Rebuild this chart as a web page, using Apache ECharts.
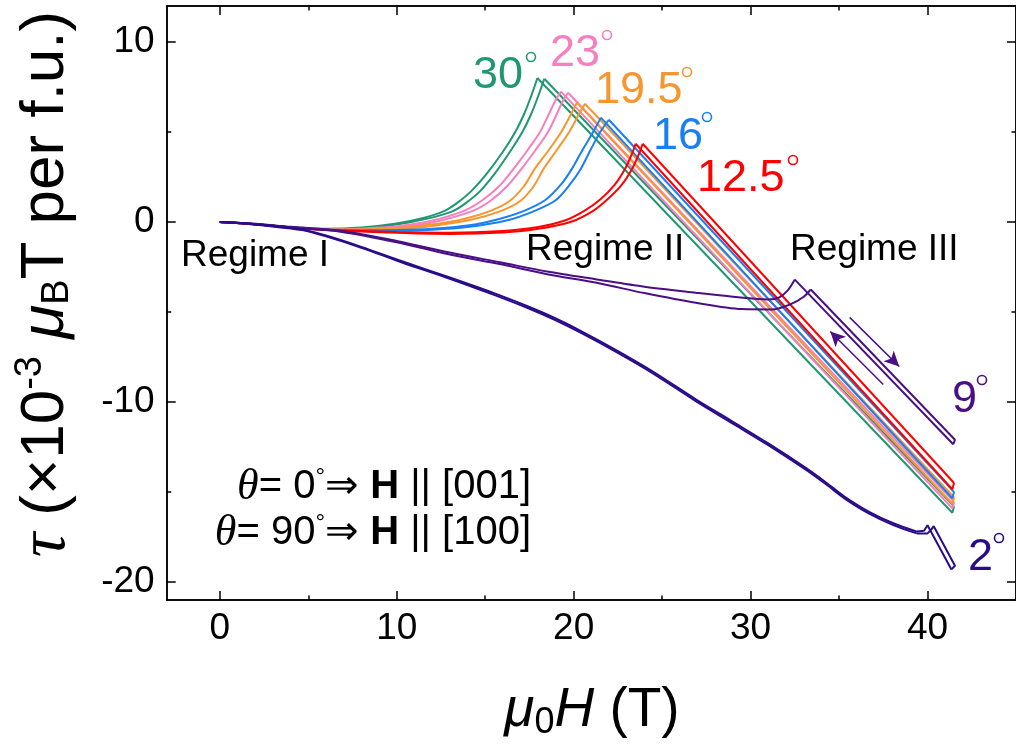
<!DOCTYPE html>
<html>
<head>
<meta charset="utf-8">
<script src="https://cdn.jsdelivr.net/npm/echarts@6/dist/echarts.min.js"></script>
<style>
html,body{margin:0;padding:0;background:#fff;}
#c{width:1016px;height:748px;}
</style>
</head>
<body>
<div id="c"></div>
<script>
// ---------------- data (field in T, torque in 1e-3 muB T per f.u.) ----------------
const xMajorTicks = [0, 10, 20, 30, 40];
const xMinorTicks = [5, 15, 25, 35, 45];
const yMajorTicks = [-20, -10, 0, 10];
const yMinorTicks = [-15, -5, 5];

// each sweep: a smooth low-field curve up to the kink, then the straight high-field branch
const deg30_a_curve = [[0,0],[2,-0.12],[4,-0.3],[6,-0.38],[8,-0.3],[10,-0.08],[11.5,0.22],[12.7,0.62],[13.4,1.05],[14.2,1.7],[15.1,2.7],[16.0,3.9],[16.7,5.0],[17.2,6.0],[17.6,7.0],[17.95,8.0]];
const deg30_a_line  = [[17.95,8.0],[41.4,-16.15],[41.5,-15.8]];
const deg30_b_curve = [[0,0],[2,-0.12],[4,-0.3],[6,-0.4],[8,-0.35],[10,-0.14],[11.8,0.2],[13.2,0.62],[13.9,1.05],[14.7,1.7],[15.55,2.7],[16.4,3.9],[17.1,5.0],[17.6,6.0],[18.0,7.0],[18.34,7.96]];
const deg30_b_line  = [[18.34,7.96],[41.5,-15.8]];

const deg23_a_curve = [[0,0],[2,-0.12],[4,-0.3],[6,-0.4],[8,-0.37],[10,-0.24],[12,0.08],[13.8,0.62],[14.8,1.18],[15.8,2.0],[16.6,2.95],[17.4,4.0],[18.1,5.0],[18.6,6.0],[19.0,6.8],[19.29,7.24]];
const deg23_a_line  = [[19.29,7.24],[41.4,-15.9],[41.5,-15.55]];
const deg23_b_curve = [[0,0],[2,-0.12],[4,-0.3],[6,-0.41],[8,-0.41],[10,-0.3],[12,-0.03],[14.3,0.62],[15.3,1.18],[16.25,2.0],[17.05,2.95],[17.85,4.0],[18.55,5.0],[19.05,6.0],[19.4,6.75],[19.69,7.18]];
const deg23_b_line  = [[19.69,7.18],[41.5,-15.55]];

const deg19_a_curve = [[0,0],[2,-0.12],[4,-0.3],[6,-0.41],[8,-0.42],[10,-0.34],[12,-0.14],[13.8,0.17],[15.3,0.62],[16.4,1.18],[17.2,2.0],[17.8,2.95],[18.6,4.0],[19.3,5.0],[19.8,5.9],[20.19,6.63]];
const deg19_a_line  = [[20.19,6.63],[41.4,-15.65],[41.5,-15.3]];
const deg19_b_curve = [[0,0],[2,-0.12],[4,-0.3],[6,-0.42],[8,-0.45],[10,-0.39],[12,-0.22],[14.2,0.12],[15.9,0.62],[17.0,1.18],[17.75,2.0],[18.3,2.95],[19.05,4.0],[19.75,5.0],[20.25,5.9],[20.64,6.57]];
const deg19_b_line  = [[20.64,6.57],[41.5,-15.3]];

const deg16_a_curve = [[0,0],[2,-0.12],[4,-0.3],[6,-0.42],[8,-0.46],[10,-0.45],[12,-0.38],[14,-0.2],[15.8,0.17],[17.2,0.62],[18.4,1.22],[19.3,2.1],[19.9,2.95],[20.5,4.0],[21.1,5.0],[21.54,5.8]];
const deg16_a_line  = [[21.54,5.8],[41.4,-15.35],[41.5,-15.0]];
const deg16_b_curve = [[0,0],[2,-0.12],[4,-0.3],[6,-0.43],[8,-0.48],[10,-0.48],[12,-0.43],[14,-0.28],[16.2,0.08],[17.8,0.62],[19.0,1.22],[19.8,2.1],[20.4,2.95],[20.95,4.0],[21.5,5.0],[21.99,5.68]];
const deg16_b_line  = [[21.99,5.68],[41.5,-15.0]];

const deg12_a_curve = [[0,0],[2,-0.12],[4,-0.3],[6,-0.43],[8,-0.5],[10,-0.56],[13,-0.6],[16,-0.5],[18,-0.28],[19.5,0.08],[20.6,0.62],[21.5,1.25],[22.3,2.05],[22.9,2.95],[23.3,3.8],[23.5,4.35]];
const deg12_a_line  = [[23.5,4.35],[41.4,-14.85],[41.5,-14.5]];
const deg12_b_curve = [[0,0],[2,-0.12],[4,-0.3],[6,-0.44],[8,-0.53],[10,-0.6],[13,-0.66],[16,-0.58],[18,-0.38],[19.9,0.03],[21.1,0.62],[21.9,1.25],[22.7,2.05],[23.3,2.95],[23.7,3.8],[23.9,4.35]];
const deg12_b_line  = [[23.9,4.35],[41.5,-14.5]];

const deg9_a_curve = [[0,0],[2,-0.1],[4,-0.27],[6.9,-0.5],[10,-1.05],[13,-1.7],[15.9,-2.25],[18.5,-2.75],[21.3,-3.19],[24,-3.6],[26.9,-3.93],[29,-4.15],[31.0,-4.3],[31.6,-4.2],[32.1,-3.8],[32.5,-3.2]];
const deg9_a_line  = [[32.5,-3.2],[41.45,-12.35]];
const deg9_b_curve = [[0,0],[2,-0.11],[4,-0.29],[6.9,-0.55],[10,-1.12],[13,-1.8],[15.9,-2.35],[18.5,-2.9],[21.3,-3.38],[24,-3.95],[26.9,-4.49],[29.5,-4.84],[31.2,-4.86],[32.3,-4.55],[33.0,-4.15],[33.4,-3.75]];
const deg9_b_line  = [[33.4,-3.75],[41.55,-12.1],[41.45,-12.35]];

const deg2_a_curve = [[0,0],[1,-0.04],[2.5,-0.17],[4.65,-0.42],[6,-0.75],[8,-1.38],[10.3,-2.18],[13,-3.08],[15.5,-3.95],[17.5,-4.72],[18.9,-5.32],[20.5,-6.1],[22.5,-7.17],[24.5,-8.32],[26.9,-9.85],[29,-11.1],[31,-12.3],[33.1,-13.65],[34.3,-14.5],[35.3,-15.25],[36.7,-16.1],[38.1,-16.75],[39.4,-17.2]];
const deg2_a_line  = [[39.4,-17.2],[39.8,-17.15],[40.0,-16.85],[41.35,-19.3]];
const deg2_b_curve = [[0,0],[1,-0.05],[2.5,-0.2],[4.65,-0.45],[6,-0.8],[8,-1.43],[10.3,-2.25],[13,-3.15],[15.5,-4.05],[17.5,-4.82],[18.9,-5.42],[20.5,-6.2],[22.5,-7.27],[24.5,-8.42],[26.9,-9.95],[29,-11.2],[31,-12.4],[33.1,-13.75],[34.3,-14.6],[35.3,-15.35],[36.7,-16.2],[38.1,-16.85],[39.4,-17.3]];
const deg2_b_line  = [[39.4,-17.3],[40.0,-17.3],[40.2,-17.1],[40.35,-16.9],[41.55,-19.1],[41.35,-19.3]];

// sweep-direction arrows beside the 9 deg curve: [from, to]
const arrowUp = [[35.6,-5.3],[38.4,-8.03]];
const arrowDown = [[37.5,-9.03],[34.5,-6.08]];

// ---------------- styling ----------------
const SANS = "'Liberation Sans', Arial, Helvetica, sans-serif";
const SERIF = "'Liberation Serif', 'Times New Roman', serif";
const C = {d30:'#1f9872', d23:'#f77ebf', d19:'#f7962f', d16:'#1a7ff2', d12:'#ff0000', d9:'#4a0f85', d2:'#2a0b8a'};

const chart = echarts.init(document.getElementById('c'), null, {renderer:'canvas'});

function xAx(pos, ticks, len, labels) {
  return {
    type:'value', min:-3, max:45, position:pos, gridIndex:0,
    axisLine:{show:true, onZero:false, lineStyle:{color:'#000', width:1.5}},
    axisTick:{show:true, inside:true, length:len, customValues:ticks, lineStyle:{color:'#000', width:1.5}},
    axisLabel:labels ? {show:true, customValues:ticks, fontSize:37, fontFamily:SANS, color:'#000', margin:10} : {show:false},
    splitLine:{show:false}
  };
}
function yAx(pos, ticks, len, labels) {
  return {
    type:'value', min:-21, max:12, position:pos, gridIndex:0,
    axisLine:{show:true, onZero:false, lineStyle:{color:'#000', width:1.5}},
    axisTick:{show:true, inside:true, length:len, customValues:ticks, lineStyle:{color:'#000', width:1.5}},
    axisLabel:labels ? {show:true, customValues:ticks, fontSize:37, fontFamily:SANS, color:'#000', margin:12} : {show:false},
    splitLine:{show:false}
  };
}

function ln(data, color, smooth, extra) {
  return Object.assign({
    type:'line', data, xAxisIndex:0, yAxisIndex:0,
    showSymbol:false, symbol:'none', animation:false,
    smooth: smooth ? 0.3 : false,
    lineStyle:{color, width:2}, itemStyle:{color}
  }, extra || {});
}
function sweep(curve, line, color, extra) {
  return [ln(curve, color, true, extra), ln(line, color, false)];
}

const arrowLine = {
  silent:true, symbol:['none','arrow'], symbolSize:[11,15], animation:false,
  lineStyle:{color:C.d9, width:1.5, type:'solid'}, label:{show:false},
  data:[
    [{coord:arrowUp[0]},{coord:arrowUp[1]}],
    [{coord:arrowDown[0]},{coord:arrowDown[1]}]
  ]
};

function deg(cx, cy, color) {
  return {type:'circle', shape:{cx, cy, r:4.5}, style:{fill:'none', stroke:color, lineWidth:1.6}, z:100};
}
function angleText(txt, x, y, color) {
  return {type:'text', x, y, z:100, style:{text:txt, fill:color, fontSize:45, fontFamily:SANS, align:'left', verticalAlign:'middle'}};
}
function plain(txt, x, y) {
  return {type:'text', x, y, z:100, style:{text:txt, fill:'#000', fontSize:37, fontFamily:SANS, align:'left', verticalAlign:'middle'}};
}
const thetaRich = {
  th:{fontFamily:SERIF, fontStyle:'italic', fontSize:44, fill:'#000'},
  t:{fontFamily:SANS, fontSize:40, fill:'#000'},
  dg:{fontFamily:SANS, fontSize:24, fill:'#000', padding:[0,0,20,0]},
  bd:{fontFamily:SANS, fontSize:40, fontWeight:'bold', fill:'#000'}
};

const option = {
  backgroundColor:'#fff',
  animation:false,
  grid:{left:166.7, top:6, right:-6, bottom:148, containLabel:false},
  xAxis:[xAx('bottom', xMajorTicks, 9, true), xAx('bottom', xMinorTicks, 4.5, false), xAx('top', xMajorTicks, 9, false), xAx('top', xMinorTicks, 4.5, false)],
  yAxis:[yAx('left', yMajorTicks, 9, true), yAx('left', yMinorTicks, 4.5, false), yAx('right', yMajorTicks, 9, false), yAx('right', yMinorTicks, 4.5, false)],
  series:[].concat(
    sweep(deg30_a_curve, deg30_a_line, C.d30), sweep(deg30_b_curve, deg30_b_line, C.d30),
    sweep(deg23_a_curve, deg23_a_line, C.d23), sweep(deg23_b_curve, deg23_b_line, C.d23),
    sweep(deg19_a_curve, deg19_a_line, C.d19), sweep(deg19_b_curve, deg19_b_line, C.d19),
    sweep(deg16_a_curve, deg16_a_line, C.d16), sweep(deg16_b_curve, deg16_b_line, C.d16),
    sweep(deg12_a_curve, deg12_a_line, C.d12), sweep(deg12_b_curve, deg12_b_line, C.d12),
    sweep(deg9_a_curve, deg9_a_line, C.d9, {markLine:arrowLine}), sweep(deg9_b_curve, deg9_b_line, C.d9),
    sweep(deg2_a_curve, deg2_a_line, C.d2), sweep(deg2_b_curve, deg2_b_line, C.d2)
  ),
  graphic:[
    angleText('30', 473, 76, C.d30), deg(531, 57, C.d30),
    angleText('23', 550, 54, C.d23), deg(607, 35, C.d23),
    angleText('19.5', 595, 91, C.d19), deg(687, 72, C.d19),
    angleText('16', 653, 137, C.d16), deg(707, 117, C.d16),
    angleText('12.5', 697, 179, C.d12), deg(793, 160, C.d12),
    angleText('9', 952, 400, C.d9), deg(982, 380, C.d9),
    angleText('2', 968, 558, C.d2), deg(999, 538, C.d2),
    plain('Regime I', 181, 256),
    plain('Regime II', 526, 250),
    plain('Regime III', 790, 250),
    {type:'text', x:531, y:487, z:100, style:{text:'{th|θ}{t|= 0}{dg|°}{t|⇒ }{bd|H}{t| || [001]}', rich:thetaRich, align:'right', verticalAlign:'middle'}},
    {type:'text', x:531, y:533, z:100, style:{text:'{th|θ}{t|= 90}{dg|°}{t|⇒ }{bd|H}{t| || [100]}', rich:thetaRich, align:'right', verticalAlign:'middle'}},
    {type:'text', x:46, y:284, rotation:Math.PI/2, z:100, style:{
      text:'{tau|τ}{t| (×10}{sup|-3}{t| }{mu|μ}{sub|B}{t|T per f.u.)}',
      align:'center', verticalAlign:'middle',
      rich:{
        tau:{fontFamily:SERIF, fontStyle:'italic', fontSize:68, fill:'#000'},
        t:{fontFamily:SANS, fontSize:62, fill:'#000'},
        sup:{fontFamily:SANS, fontSize:38, fill:'#000', padding:[0,0,30,0]},
        mu:{fontFamily:SANS, fontStyle:'italic', fontSize:62, fill:'#000'},
        sub:{fontFamily:SANS, fontSize:38, fill:'#000', padding:[24,0,0,0]}
      }}},
    {type:'text', x:592, y:711, z:100, style:{
      text:'{mu|μ}{sub|0}{h|H}{t| (T)}',
      align:'center', verticalAlign:'middle',
      rich:{
        mu:{fontFamily:SANS, fontStyle:'italic', fontSize:55, fill:'#000'},
        sub:{fontFamily:SANS, fontSize:36, fill:'#000', padding:[24,0,0,0]},
        h:{fontFamily:SANS, fontStyle:'italic', fontSize:55, fill:'#000'},
        t:{fontFamily:SANS, fontSize:55, fill:'#000'}
      }}}
  ]
};
chart.setOption(option);
</script>
</body>
</html>
